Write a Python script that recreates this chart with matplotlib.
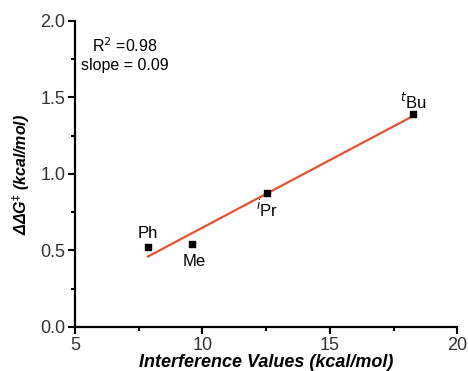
import numpy as np
import matplotlib
matplotlib.use("Agg")
from matplotlib import pyplot as plt
from matplotlib.ticker import MultipleLocator

plt.rcParams['font.family'] = ['Liberation Sans', 'DejaVu Sans']

# data
labels = ['Ph', 'Me', '$^i$Pr', '$^t$Bu']
interference = [7.87, 9.59, 12.54, 18.27]
ddg = [0.52, 0.54, 0.876, 1.39]
label_offsets = [(0, 10), (2, -12), (0, -12), (0, 9)]

fit = np.polyfit(interference, ddg, 1)
x_fit = np.array([min(interference), max(interference)])
y_fit = np.polyval(fit, x_fit)

fig = plt.figure(figsize=(4.68, 3.71), dpi=100)
ax = fig.add_axes([0.160, 0.1186, 0.817, 0.8248])

ax.plot(x_fit, y_fit, color='#e2542e', lw=1.6, zorder=2)
ax.scatter(interference, ddg, marker='s', s=22, color='black', zorder=3)

for lab, xv, yv, off in zip(labels, interference, ddg, label_offsets):
    ax.annotate(lab, (xv, yv), xytext=off, textcoords='offset points',
                ha='center', va='center', fontsize=12)

ax.text(0.131, 0.92, 'R$^2$ =0.98', transform=ax.transAxes, ha='center', va='center',
        fontsize=11.5)
ax.text(0.131, 0.856, 'slope = 0.09', transform=ax.transAxes, ha='center', va='center',
        fontsize=11.5)

ax.set_xlim(5, 20)
ax.set_ylim(0, 2.0)
ax.xaxis.set_major_locator(MultipleLocator(5))
ax.xaxis.set_minor_locator(MultipleLocator(2.5))
ax.yaxis.set_major_locator(MultipleLocator(0.5))
ax.yaxis.set_minor_locator(MultipleLocator(0.25))
ax.yaxis.set_major_formatter(matplotlib.ticker.FormatStrFormatter('%.1f'))

for s in ['top', 'right']:
    ax.spines[s].set_visible(False)
for s in ['left', 'bottom']:
    ax.spines[s].set_linewidth(1.6)
ax.tick_params(which='major', direction='out', length=5, width=1.5, labelsize=13,
               labelcolor='#333333', pad=2)
ax.tick_params(which='minor', direction='out', length=3, width=1.5)

ax.set_xlabel('Interference Values (kcal/mol)', fontsize=13, fontweight='bold',
              fontstyle='italic', labelpad=0)
ax.set_ylabel(r'ΔΔG$^{\ddag}$ (kcal/mol)', fontsize=11.5, fontweight='bold',
              fontstyle='italic', labelpad=6)

fig.savefig('out.png', dpi=100, facecolor='white')
